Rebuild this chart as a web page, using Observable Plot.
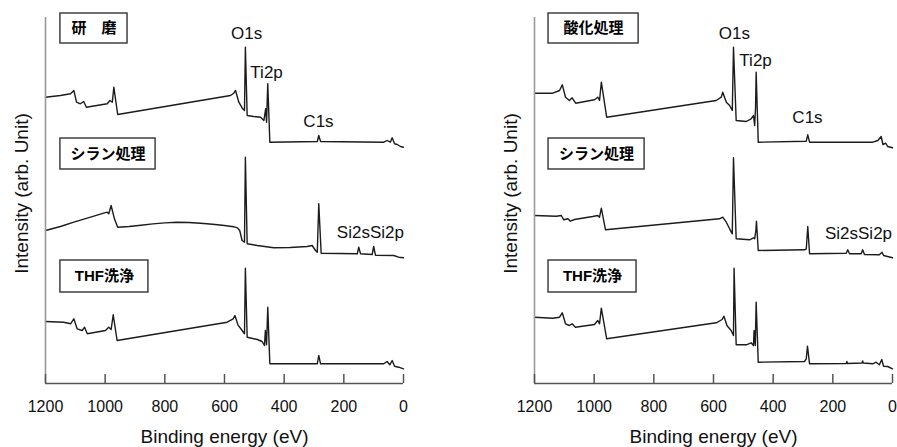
<!DOCTYPE html>
<html>
<head>
<meta charset="utf-8">
<script src="https://cdn.jsdelivr.net/npm/d3@7"></script>
<script src="https://cdn.jsdelivr.net/npm/@observablehq/plot@0.6"></script>
<style>
  html, body { margin: 0; padding: 0; background: #fff; }
  #wrap { position: relative; width: 897px; height: 447px; overflow: hidden; }
  #left, #right { position: absolute; top: 0; }
  #left { left: 0; }
  #right { left: 489px; }
</style>
</head>
<body>
<div id="wrap"><div id="left"></div><div id="right"></div></div>
<script>
// ---- Data: [binding energy (eV), intensity (arb.)] ----
const xTicks = [1200, 1000, 800, 600, 400, 200, 0];

// Left panel
const left_kenma = [[1200,286.3],[1150,288],[1116,289.7],[1105,293],[1096,281.3],[1083,279.7],[1072,282],[1063,276.3],[993,279.7],[984,283],[976,281.3],[971,296.3],[958,269],[580,288],[569,290.3],[563,293],[552,281.3],[539,274.7],[533,273],[530,336.3],[524,268],[502,267],[479,266.3],[468,263],[462,274.7],[459,261.3],[455,299.7],[448,241.3],[289,242],[284,248],[278,242],[66,241.3],[55,243],[44,241.3],[38,245.7],[30,239.7],[21,239],[10,237],[0,236.3]];
const left_silane = [[1200,153],[1150,157],[1105,161.3],[1049,166.3],[1005,170.3],[993,171.3],[988,169.7],[980,178],[969,164.7],[958,156.3],[920,157],[880,158.3],[840,159.6],[800,160.6],[760,161.2],[720,161],[680,160.2],[640,159.2],[600,158],[570,156.8],[557,155.7],[549,153],[541,143],[533,141.3],[530,226.3],[524,139.7],[490,138],[435,135.7],[380,136],[323,137],[306,138],[295,133],[289,131.3],[284,179.7],[276,130.3],[155,129.7],[150,136.3],[144,129.7],[105,129],[100,137],[94,128.3],[33,128],[16,126.3],[0,125.7]];
const left_thf = [[1200,62],[1139,61.3],[1116,59.7],[1105,64.7],[1094,54.7],[1077,53],[1069,56.3],[1060,49.7],[999,53],[988,56.3],[980,54],[973,68.7],[960,43],[591,61.3],[571,64.7],[565,68],[555,58.7],[541,53],[533,49.7],[530,115.3],[524,46.3],[490,44],[474,42],[466,38],[463,53],[459,38.7],[455,76.3],[448,19.7],[289,19.7],[284,28],[278,19.7],[66,19.7],[55,22],[46,18.7],[38,23],[30,17.3],[16,16.3],[0,14.7]];

// Right panel
const right_oxid = [[1200,290.3],[1139,290.3],[1116,293],[1107,298.7],[1096,286.3],[1083,283],[1074,285.7],[1062,280.3],[999,283.7],[988,286.3],[982,283],[976,301.3],[958,266.3],[591,283],[574,286.3],[569,291.3],[557,281.3],[546,278],[537,273],[533,336.3],[524,263],[490,262],[474,264.7],[466,268],[462,258],[459,276.3],[457,311.3],[450,241.3],[289,242.3],[284,248.7],[278,241.3],[66,241.3],[49,243],[38,247],[32,239],[23,240.3],[16,237],[0,235.7]];
const right_silane = [[1200,168],[1127,167.3],[1110,168],[1102,163.7],[1088,164.7],[1080,162.3],[1066,164],[1005,167],[988,168],[982,166.3],[976,175.3],[962,153.7],[580,164.7],[569,166.3],[557,161.3],[546,154.7],[537,149.7],[533,225.7],[524,144.7],[479,143.7],[466,145.7],[462,144.7],[458,153],[456,162.3],[450,133],[295,133.7],[289,134.7],[284,157],[278,129.7],[155,130.3],[150,133.7],[144,129.7],[105,129.7],[100,133.7],[94,129],[44,128.7],[35,131.3],[30,128],[0,125.7]];
const right_thf = [[1200,66.3],[1139,65.3],[1116,66.3],[1107,70.7],[1096,59.7],[1083,58],[1074,59.7],[1063,56.3],[999,59],[988,63],[982,59.7],[976,75.3],[958,44.7],[591,60.7],[571,64],[565,67.3],[555,58],[541,53],[533,48],[531,115.3],[524,38.7],[490,38.7],[474,40.7],[466,38],[464,53],[460,38],[457,81.3],[450,21.3],[295,22],[289,24.7],[285,37.3],[278,19.7],[155,20],[153,22],[151,20],[102,20.5],[100,22.5],[98,20.5],[66,19.7],[55,21.3],[44,18.7],[36,24],[30,17.3],[16,17],[0,14.7]];

// Sample labels (boxes) and peak labels
const left_boxes = [
  {label: "研　磨", x1: 1150, x2: 925, y1: 340, y2: 370},
  {label: "シラン処理", x1: 1150, x2: 831, y1: 214, y2: 245},
  {label: "THF洗浄", x1: 1150, x2: 855, y1: 91, y2: 123}
];
const right_boxes = [
  {label: "酸化処理", x1: 1153, x2: 851, y1: 340, y2: 370},
  {label: "シラン処理", x1: 1153, x2: 831, y1: 214, y2: 245},
  {label: "THF洗浄", x1: 1153, x2: 858, y1: 91, y2: 123}
];
const left_peaks = [
  {label: "O1s", x: 526, y: 350},
  {label: "Ti2p", x: 459, y: 311},
  {label: "C1s", x: 285, y: 262},
  {label: "Si2sSi2p", x: 111, y: 151}
];
const right_peaks = [
  {label: "O1s", x: 530, y: 350},
  {label: "Ti2p", x: 459, y: 323},
  {label: "C1s", x: 285, y: 266},
  {label: "Si2sSi2p", x: 114, y: 150}
];

const xLabel = "Binding energy (eV)";
const yLabel = "Intensity (arb. Unit)";
const latin = "'Liberation Sans', Arial, 'Noto Sans CJK JP', sans-serif";
const cjk = "'Liberation Sans', Arial, 'Noto Sans CJK JP', sans-serif";

function panel(traces, boxes, peaks, width, marginRight) {
  const series = traces.flatMap((t, i) => t.map(d => ({e: d[0], v: d[1], s: i})));
  return Plot.plot({
    width, height: 447,
    marginLeft: 45, marginRight, marginTop: 17, marginBottom: 64,
    style: {fontFamily: latin, background: "#fff", overflow: "visible"},
    x: {domain: [1200, 0], axis: null},
    y: {domain: [0, 366], axis: null},
    marks: [
      Plot.line(series, {x: "e", y: "v", z: "s", stroke: "#1c1c1c", strokeWidth: 1.4, strokeLinejoin: "round"}),
      Plot.ruleX([1200], {y1: 0, y2: 366, stroke: "#9a9a9a", strokeWidth: 1.6}),
      Plot.ruleY([0], {stroke: "#555", strokeWidth: 1.6}),
      Plot.ruleX(xTicks, {x: d => d, y1: 0, y2: 9, stroke: "#555", strokeWidth: 1.5}),
      Plot.text(xTicks, {x: d => d, y: 0, dy: 23, text: d => String(d), fontSize: 16, fill: "#111"}),
      Plot.text([xLabel], {x: 600, y: 0, dy: 53, text: d => d, fontSize: 19, fill: "#111"}),
      Plot.text([yLabel], {x: 1200, y: 190, dx: -24, text: d => d, rotate: -90, fontSize: 19, fill: "#111"}),
      Plot.rect(boxes, {x1: "x1", x2: "x2", y1: "y1", y2: "y2", fill: "#fff", stroke: "#333", strokeWidth: 1.4}),
      Plot.text(boxes, {x: d => (d.x1 + d.x2) / 2, y: d => (d.y1 + d.y2) / 2, text: "label", fontSize: 15, fontWeight: "bold", fontFamily: cjk, fill: "#000"}),
      Plot.text(peaks, {x: "x", y: "y", text: "label", fontSize: 17, fill: "#111"})
    ]
  });
}

document.getElementById("left").append(panel([left_kenma, left_silane, left_thf], left_boxes, left_peaks, 448, 45));
document.getElementById("right").append(panel([right_oxid, right_silane, right_thf], right_boxes, right_peaks, 408, 5));
</script>
</body>
</html>
